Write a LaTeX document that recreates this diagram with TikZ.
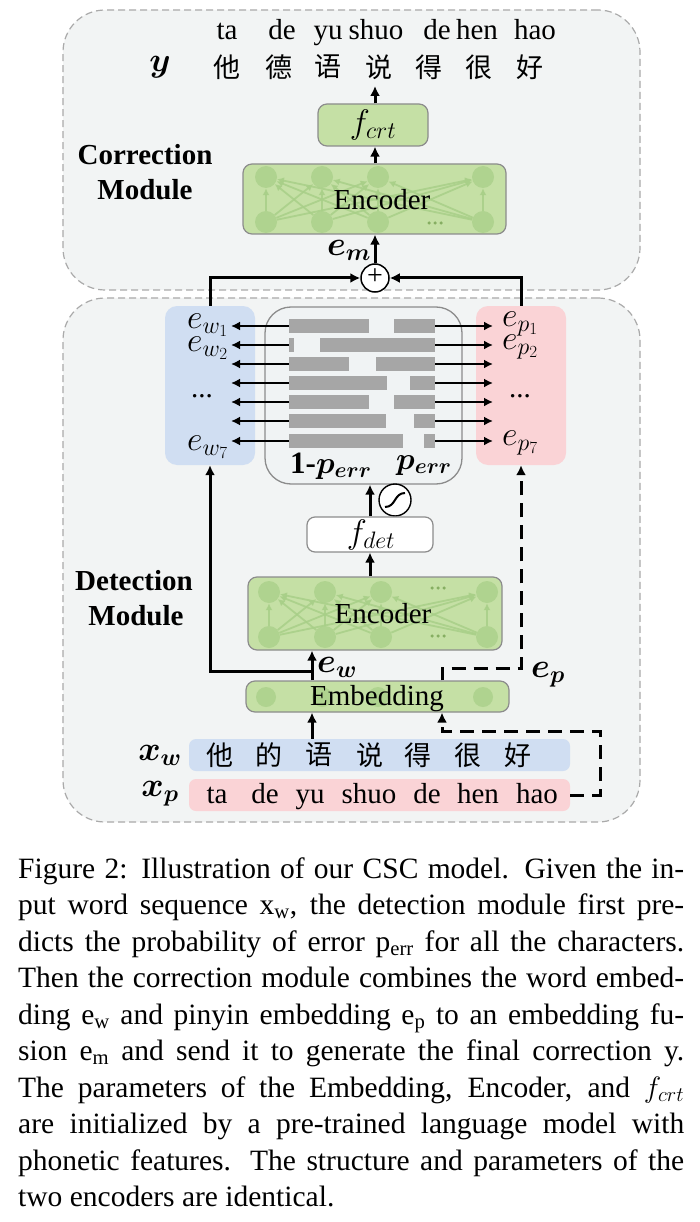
\RequirePackage{fix-cm}
\documentclass[tikz,border=0pt]{standalone}
\usepackage{amsmath}
\usepackage{bm}
\usepackage{fontspec}
\setmainfont{Liberation Serif}
\newfontfamily\cjk{Noto Sans CJK SC}
\usetikzlibrary{arrows.meta}
\definecolor{modbg}{HTML}{F2F4F4}
\definecolor{modln}{HTML}{AAAAAA}
\definecolor{grn}{HTML}{C5E0A5}
\definecolor{grnc}{HTML}{A8CF88}
\definecolor{grnd}{HTML}{86AE62}
\definecolor{bluebg}{HTML}{D0DEF2}
\definecolor{pinkbg}{HTML}{FAD3D6}
\definecolor{barc}{HTML}{A6A6A6}
\definecolor{boxln}{HTML}{8C8C8C}
\definecolor{ctrbg}{HTML}{F0F3F4}
\tikzset{
  module/.style={draw=modln, dash pattern=on 7pt off 4pt, line width=1.2pt, fill=modbg, rounded corners=42pt, inner sep=0pt},
  grnbox/.style={draw=boxln, fill=grn, line width=1.2pt, rounded corners=9pt, inner sep=0pt},
  whtbox/.style={draw=boxln, fill=white, line width=1.2pt, rounded corners=8pt, inner sep=0pt},
  ebox/.style={rounded corners=12pt, inner sep=0pt},
  ctrbox/.style={draw=boxln, fill=ctrbg, line width=1.3pt, rounded corners=26pt, inner sep=0pt},
  inbox/.style={rounded corners=7pt, inner sep=0pt},
  encc/.style={circle, fill=grnc, fill opacity=0.75, minimum size=22pt, inner sep=0pt},
  embc/.style={circle, fill=grnc, fill opacity=0.75, minimum size=20pt, inner sep=0pt},
  encarr/.style={draw=grnc, line width=1.8pt, -{Latex[length=7pt,width=7pt]}, opacity=0.85},
  bar/.style={fill=barc, inner sep=0pt, minimum height=14.5pt, anchor=west},
  mainarr/.style={line width=3pt, -{Latex[length=10pt,width=10pt]}},
  dasharr/.style={line width=3pt, dash pattern=on 14pt off 8pt, -{Latex[length=10pt,width=10pt]}},
  rowarr/.style={line width=2pt, -{Latex[length=9pt,width=9pt]}},
  txt/.style={inner sep=0pt, anchor=base},
  mth/.style={inner sep=0pt, font=\fontsize{34}{38}\selectfont},
  mths/.style={inner sep=0pt, font=\fontsize{31}{35}\selectfont},
  cj/.style={inner sep=0pt, font=\cjk\fontsize{27}{30}\selectfont},
  captext/.style={inner sep=0pt, anchor=base west, font=\fontsize{29.5}{36.5}\selectfont},
  dotsg/.style={circle, fill=grnd, inner sep=0pt, minimum size=3.5pt},
}
\newcommand{\encdeco}[7]{%
  \foreach \xx [count=\k] in {#4,#5,#6,#7} {%
    \node[encc] (#1t\k) at (\xx,#2) {};
    \node[encc] (#1b\k) at (\xx,#3) {};
  }%
  \foreach \i in {1,...,4} {\foreach \j in {1,...,4} {\draw[encarr] (#1b\i) -- (#1t\j);}}%
}
\newcommand{\gdots}[3]{%
  \node[dotsg] (#1a) at (#2-6,#3) {};
  \node[dotsg] (#1b) at (#2,#3) {};
  \node[dotsg] (#1c) at (#2+6,#3) {};
}
\newcommand{\cs}[2]{#1\textsubscript{#2}}
\begin{document}
\begin{tikzpicture}[x=1pt, y=-1pt, font=\fontsize{29}{34}\selectfont]
\useasboundingbox (0,0) rectangle (700,1222);
\fill[white] (0,0) rectangle (700,1222);

% ---------- modules ----------
\node[module, minimum width=577pt, minimum height=280pt] (corr) at (351.5,150) {};
\node[module, minimum width=577pt, minimum height=524pt] (det) at (351.5,560) {};

% ---------- correction module ----------
\foreach \w/\xx [count=\n] in {ta/227, de/282, yu/328, shuo/376, de/437, hen/477, hao/535}
  \node[txt] (py\n) at (\xx,40) {\w};
\foreach \c/\xx [count=\n] in {他/227, 德/279, 语/328, 说/379, 得/429, 很/479, 好/530}
  \node[cj] (yc\n) at (\xx,67) {\c};
\node[mth, anchor=base] (ylab) at (160,72) {$\bm{y}$};
\node[txt] (cm1) at (145,165) {\bfseries Correction};
\node[txt] (cm2) at (145,200) {\bfseries Module};

\node[grnbox, minimum width=110pt, minimum height=42pt] (fcrt) at (373,125) {};
\node[mth] (fcrtt) at (373,125) {$f_{crt}$};

\node[grnbox, minimum width=263pt, minimum height=70pt] (enc2) at (374.5,199) {};
\encdeco{A}{177}{222}{266}{322}{378}{483}
\gdots{Ad}{435}{223}
\node[txt] (enc2t) at (382,210) {Encoder};

\node[circle, draw, line width=1.5pt, fill=white, minimum size=28pt, inner sep=0pt] (plus) at (375,278) {};
\node[inner sep=0pt, font=\fontsize{28}{28}\selectfont] (plust) at (375,277) {+};
\node[mth] (emlab) at (349,250) {$\bm{e_m}$};

\coordinate (cc) at (375,0);
\coordinate (yout) at (375,86);
\draw[mainarr] (plus.north) -- (plus.north |- enc2.south);
\draw[mainarr] (enc2.north -| cc) -- (fcrt.south -| cc);
\draw[mainarr] (fcrt.north -| cc) -- (yout);

% ---------- detection module ----------
\node[ebox, fill=bluebg, minimum width=90pt, minimum height=159pt] (blue) at (210,385.5) {};
\node[ebox, fill=pinkbg, minimum width=90pt, minimum height=159pt] (pink) at (521,385.5) {};
\node[ctrbox, minimum width=197pt, minimum height=177pt] (ctr) at (363.5,395.5) {};

\foreach \n/\yy/\le/\rs in {1/326/369/394, 2/345/294/320, 3/364/349/376, 4/383/387/410, 5/402/369/394, 6/421/386/414, 7/441/403/424} {
  \node[bar, minimum width={\le-289}] (lb\n) at (289,\yy) {};
  \node[bar, minimum width={435-\rs}] (rb\n) at (\rs,\yy) {};
  \coordinate (lt\n) at (231,\yy);
  \coordinate (rt\n) at (493,\yy);
  \draw[rowarr] (lb\n.west) -- (lt\n);
  \draw[rowarr] (rb\n.east) -- (rt\n);
}

\node[mth, anchor=base west] (ew1) at (187,328) {$e_{w_1}$};
\node[mth, anchor=base west] (ew2) at (187,351) {$e_{w_2}$};
\node[inner sep=0pt] (ewd) at (202,396) {...};
\node[mth, anchor=base west] (ew7) at (187,450) {$e_{w_7}$};
\node[mth, anchor=base west] (ep1) at (502,326) {$e_{p_1}$};
\node[mth, anchor=base west] (ep2) at (502,349) {$e_{p_2}$};
\node[inner sep=0pt] (epd) at (520,396) {...};
\node[mth, anchor=base west] (ep7) at (502,445) {$e_{p_7}$};

\node[mths, anchor=base west] (perr1) at (290,473) {\textbf{1-}$\bm{p_{err}}$};
\node[mths, anchor=base west] (perr2) at (396,469) {$\bm{p_{err}}$};

\draw[mainarr] (blue.north) |- (plus.west);
\draw[mainarr] (pink.north) |- (plus.east);

\node[circle, draw, line width=1.4pt, fill=white, minimum size=32pt, inner sep=0pt] (sig) at (395,500) {};
\draw[line width=2pt] (sig) ++(-10,7) .. controls +(11,0) and +(-11,0) .. ++(20,-14);

\node[whtbox, minimum width=126pt, minimum height=35pt] (fdet) at (370,534.5) {};
\node[mth] (fdett) at (371,535) {$f_{det}$};
\draw[mainarr] (fdet.north) -- (fdet.north |- ctr.south);

\node[grnbox, minimum width=254pt, minimum height=73pt] (enc1) at (375,613.5) {};
\encdeco{B}{592}{637}{269}{325}{381}{487}
\gdots{Bd1}{438}{588}
\gdots{Bd2}{438}{636}
\node[txt] (enc1t) at (383,623) {Encoder};
\coordinate (cf) at (370,0);
\draw[mainarr] (enc1.north -| cf) -- (fdet.south -| cf);

\node[txt] (dm1) at (134,590) {\bfseries Detection};
\node[txt] (dm2) at (136,625) {\bfseries Module};

\node[grnbox, minimum width=263pt, minimum height=31pt] (emb) at (377.5,696.5) {};
\foreach \xx [count=\n] in {266,322,378,483}
  \node[embc] (ec\n) at (\xx,697) {};
\node[txt] (embt) at (377,705) {Embedding};

\node[inbox, fill=bluebg, minimum width=381pt, minimum height=32pt] (xw) at (379.5,755) {};
\node[inbox, fill=pinkbg, minimum width=381pt, minimum height=32pt] (xp) at (379.5,795) {};
\foreach \c/\xx [count=\n] in {他/220, 的/269, 语/319, 说/370, 得/418, 很/468, 好/518}
  \node[cj] (xc\n) at (\xx,755) {\c};
\foreach \w/\xx [count=\n] in {ta/217, de/265, yu/310, shuo/369, de/427, hen/478, hao/537}
  \node[txt] (xpy\n) at (\xx,803) {\w};
\node[mth] (xwlab) at (160,755) {$\bm{x_w}$};
\node[mth] (xplab) at (160,794) {$\bm{x_p}$};

\coordinate (cw) at (312,0);
\coordinate (jw) at (312,671);
\coordinate (cp) at (442,668);
\coordinate (cq) at (442,731);
\coordinate (cr) at (600,731);
\draw[mainarr] (xw.north -| cw) -- (emb.south -| cw);
\draw[mainarr] (emb.north -| cw) -- (enc1.south -| cw);
\draw[mainarr] (jw) -| (blue.south);
\draw[dasharr] (emb.north -| cp) -- (cp) -| (pink.south);
\draw[dasharr] (xp.east) -| (cr) -- (cq) -- (emb.south -| cq);
\node[mth, anchor=base west] (ewlab) at (317,672) {$\bm{e_w}$};
\node[mth, anchor=base west] (eplab) at (531,677) {$\bm{e_p}$};

% ---------- caption ----------
\node[captext] (c1) at (18,878) {\makebox[666pt][s]{Figure 2: Illustration of our CSC model. Given the in-}};
\node[captext] (c2) at (18,914.5) {\makebox[666pt][s]{put word sequence \cs{x}{w}, the detection module first pre-}};
\node[captext] (c3) at (18,951) {\makebox[666pt][s]{dicts the probability of error \cs{p}{err} for all the characters.}};
\node[captext] (c4) at (18,987.5) {\makebox[666pt][s]{Then the correction module combines the word embed-}};
\node[captext] (c5) at (18,1024) {\makebox[666pt][s]{ding \cs{e}{w} and pinyin embedding \cs{e}{p} to an embedding fu-}};
\node[captext] (c6) at (18,1060.5) {\makebox[666pt][s]{sion \cs{e}{m} and send it to generate the final correction y.}};
\node[captext] (c7) at (18,1097) {\makebox[666pt][s]{The parameters of the Embedding, Encoder, and $f_{crt}$}};
\node[captext] (c8) at (18,1133.5) {\makebox[666pt][s]{are initialized by a pre-trained language model with}};
\node[captext] (c9) at (18,1170) {\makebox[666pt][s]{phonetic features. The structure and parameters of the}};
\node[captext] (c10) at (18,1206.5) {two encoders are identical.};
\end{tikzpicture}
\end{document}
